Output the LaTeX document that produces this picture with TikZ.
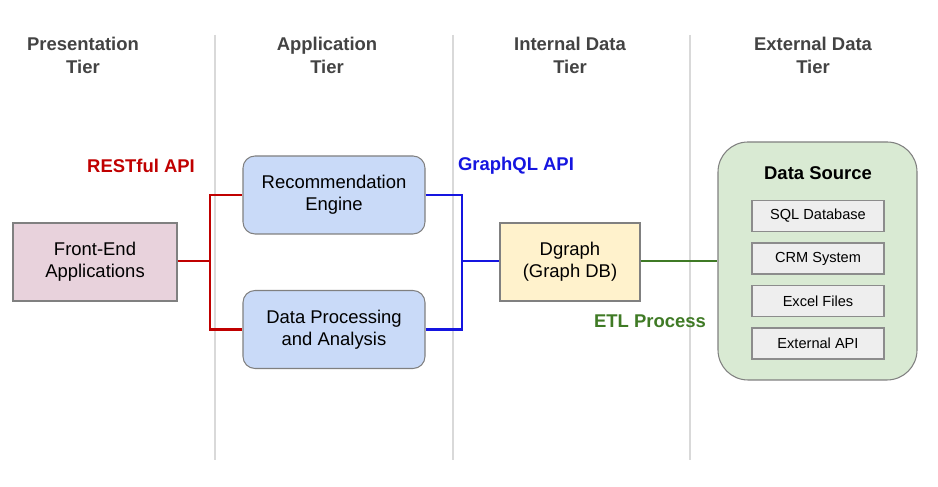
\documentclass[tikz,border=0pt]{standalone}
\usepackage{fontspec}
\setmainfont{Liberation Sans}
\usepackage{tikz}
\usetikzlibrary{positioning}

\definecolor{hdrgray}{HTML}{434343}
\definecolor{sepgray}{HTML}{D9D9D9}
\definecolor{wirered}{HTML}{C00000}
\definecolor{wireblue}{HTML}{1515E0}
\definecolor{wiregreen}{HTML}{3F7A25}
\definecolor{pinkfill}{HTML}{E8D2DC}
\definecolor{bluefill}{HTML}{C9DAF8}
\definecolor{yellowfill}{HTML}{FFF2CC}
\definecolor{greenfill}{HTML}{D9EAD3}
\definecolor{srcfill}{HTML}{EEEEEE}

\tikzset{
    tierlabel/.style={font=\fontsize{10.5}{13}\selectfont\bfseries, text=hdrgray, align=center},
    appbox/.style={draw=black!50, line width=0.6pt, minimum width=3.64cm, minimum height=1.56cm, align=center, font=\fontsize{10.5}{12.6}\selectfont},
    srcbox/.style={draw=black!45, fill=srcfill, line width=0.6pt, minimum width=2.64cm, minimum height=0.62cm, font=\fontsize{8.3}{10}\selectfont},
    apilabel/.style={font=\fontsize{10.5}{13}\selectfont\bfseries},
    wire/.style={line width=1.2pt}
}

\begin{document}
\begin{tikzpicture}
    	\useasboundingbox (0, 0) rectangle (18.76, 9.74);
    	% Tier separators and headers:
    	\draw[sepgray, line width=0.6pt] (4.3, 9.04) -- (4.3, 0.54);
    	\draw[sepgray, line width=0.6pt] (9.06, 9.04) -- (9.06, 0.54);
    	\draw[sepgray, line width=0.6pt] (13.8, 9.04) -- (13.8, 0.54);
    	\node[tierlabel](T1) at (1.66, 8.63){Presentation\\Tier};
    	\node[tierlabel](T2) at (6.54, 8.63){Application\\Tier};
    	\node[tierlabel](T3) at (11.4, 8.63){Internal Data\\Tier};
    	\node[tierlabel](T4) at (16.26, 8.63){External Data\\Tier};
    	% Nodes:
    	\node[appbox, fill=pinkfill, minimum width=3.28cm](FE) at (1.9, 4.5){Front-End\\Applications};
    	\node[appbox, fill=bluefill, rounded corners=0.24cm](RE) at (6.68, 5.84){Recommendation\\Engine};
    	\node[appbox, fill=bluefill, rounded corners=0.24cm](DP) at (6.68, 3.15){Data Processing\\and Analysis};
    	\node[appbox, fill=yellowfill, minimum width=2.8cm](DG) at (11.4, 4.5){Dgraph\\(Graph DB)};
    	\node[draw=black!50, fill=greenfill, line width=0.6pt, rounded corners=0.6cm, minimum width=3.98cm, minimum height=4.76cm](DS) at (16.35, 4.52){};
    	\node[apilabel](DST) at (16.36, 6.27){Data Source};
    	\node[srcbox](S1) at (16.36, 5.42){SQL Database};
    	\node[srcbox](S2) at (16.36, 4.57){CRM System};
    	\node[srcbox](S3) at (16.36, 3.72){Excel Files};
    	\node[srcbox](S4) at (16.36, 2.87){External API};
    	% Wires:
    	\coordinate (RJ) at (4.2, 4.52);
    	\coordinate (BJ) at (9.24, 4.52);
    	\draw[wire, wirered] (FE.east |- RJ) -- (RJ) |- (RE.west);
    	\draw[wire, wirered] (RJ) |- (DP.west);
    	\draw[wire, wireblue] (RE.east) -| (BJ) -- (DG.west |- BJ);
    	\draw[wire, wireblue] (DP.east) -| (BJ);
    	\draw[wire, wiregreen, line width=0.9pt] (DG.east |- BJ) -- (DS.west);
    	\node[apilabel, text=wirered](L1) at (2.82, 6.42){RESTful API};
    	\node[apilabel, text=wireblue](L2) at (10.32, 6.42){GraphQL API};
    	\node[apilabel, text=wiregreen](L3) at (13.0, 3.32){ETL Process};
    \end{tikzpicture}
\end{document}
